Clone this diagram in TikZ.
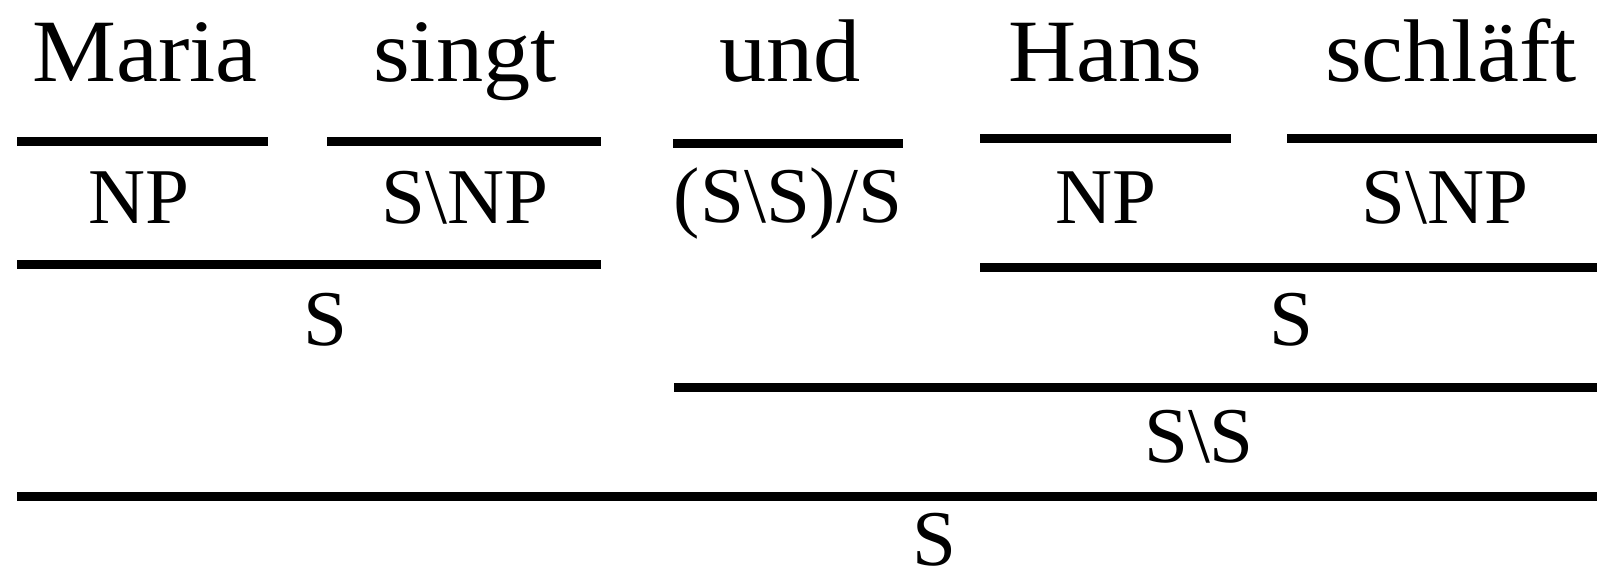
\documentclass[tikz,border=0pt]{standalone}
\usepackage{fontspec}
\setmainfont{Liberation Serif}
\newfontfamily\wordfont[FakeStretch=1.06]{Liberation Serif}
\begin{document}
\begin{tikzpicture}[x=1pt,y=-1pt,
  word/.style={anchor=base,inner sep=0pt,font=\wordfont\fontsize{89}{100}\selectfont},
  cat/.style={anchor=base,inner sep=0pt,font=\fontsize{79}{90}\selectfont},
  rule/.style={line width=9pt,line cap=butt}]
\useasboundingbox (0,0) rectangle (1597,574);
% words
\node[word] (w1) at (145,81) {Maria};
\node[word] (w2) at (465,81) {singt};
\node[word] (w3) at (790,81) {und};
\node[word] (w4) at (1105,81) {Hans};
\node[word] (w5) at (1451,81) {schläft};
% lexical rules
\draw[rule] (17,141.5) -- (268,141.5);
\draw[rule] (327,141.5) -- (601,141.5);
\draw[rule] (673,143.5) -- (903,143.5);
\draw[rule] (980,138.5) -- (1231,138.5);
\draw[rule] (1287,138.5) -- (1597,138.5);
% lexical categories
\node[cat] (c1) at (139,223) {NP};
\node[cat] (c2) at (465,223) {S\textbackslash NP};
\node[cat] (c3) at (788,222) {(S\textbackslash S)/S};
\node[cat] (c4) at (1106,223) {NP};
\node[cat] (c5) at (1445,223) {S\textbackslash NP};
% backward application
\draw[rule] (17,264) -- (601,264);
\draw[rule] (980,267) -- (1597,267);
\node[cat] (s1) at (325,345) {S};
\node[cat] (s2) at (1291,345) {S};
% forward application
\draw[rule] (674,387) -- (1597,387);
\node[cat] (ss) at (1199,462) {S\textbackslash S};
% final backward application
\draw[rule] (17,496.5) -- (1597,496.5);
\node[cat] (s) at (934,565) {S};
\end{tikzpicture}
\end{document}
